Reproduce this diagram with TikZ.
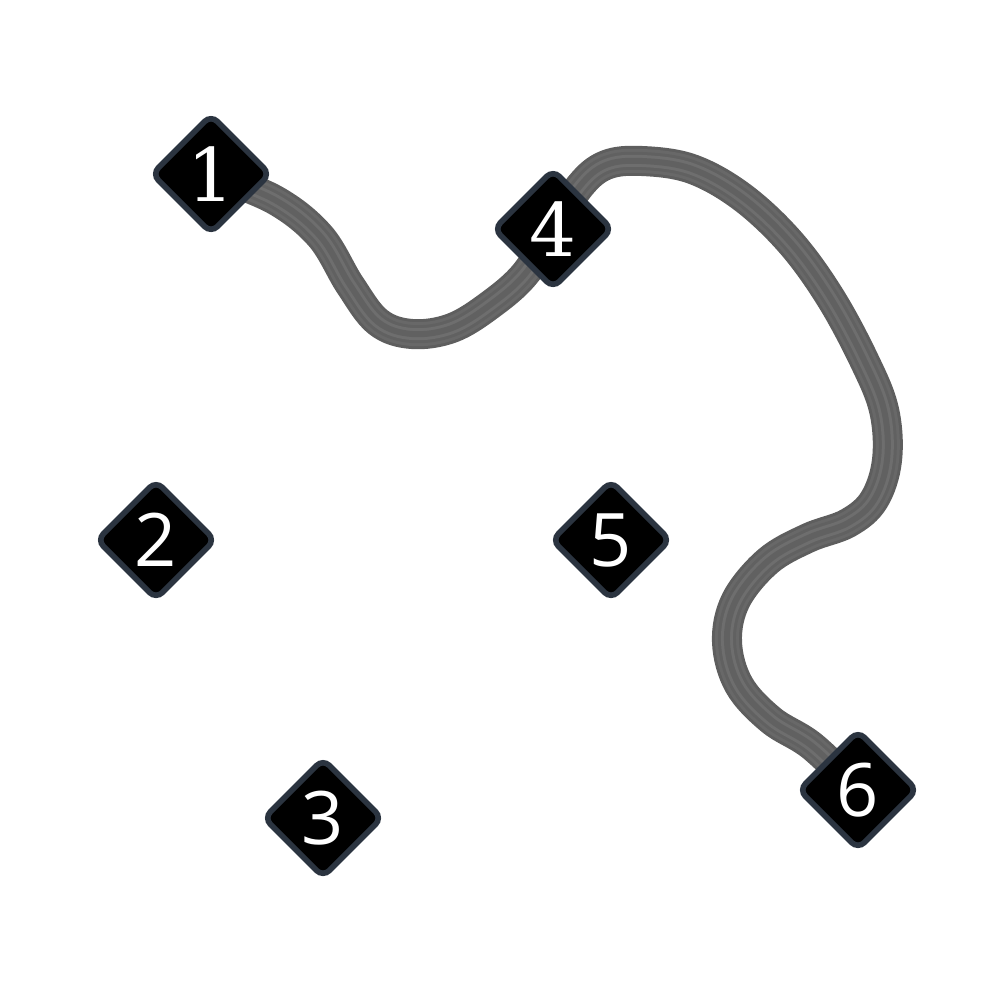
\documentclass[tikz,border=0pt]{standalone}
\usepackage{fontspec}
\usetikzlibrary{shapes.geometric}
\newfontfamily\slabfont{DejaVu Serif}
\newfontfamily\plainsans{Open Sans}
\definecolor{nodeborder}{HTML}{2B3440}
\definecolor{roadA}{HTML}{5E5E5E}
\definecolor{roadB}{HTML}{686868}
\definecolor{roadC}{HTML}{616161}
\definecolor{roadD}{HTML}{6E6E6E}
\tikzset{
  marker/.style={diamond, draw=nodeborder, fill=black, line width=1.6pt,
    rounded corners=2.5pt, minimum width=1.2cm, minimum height=1.2cm,
    inner sep=0pt, text=white, font=\fontsize{21}{21}\selectfont},
  road/.style={line cap=round, line join=round}
}
\begin{document}
\begin{tikzpicture}[x=0.01cm, y=-0.01cm]
\useasboundingbox (0,0) rectangle (1000,1000);
\coordinate (n1c) at (211,174);
\coordinate (n4c) at (553,229);
\coordinate (n6c) at (858,790);
% road
\foreach \w/\c in {0.30cm/roadA, 0.24cm/roadB, 0.18cm/roadC, 0.12cm/roadD, 0.06cm/roadC}{
  \draw[road, line width=\w, color=\c] plot[smooth, tension=0.6] coordinates {
    (n1c) (275,200) (320,236) (350,285) (378,322) (412,334) (452,328) (490,305) (525,274) (n4c)
    (580,186) (606,165) (642,161) (692,169) (742,197) (790,242) (830,297) (864,360) (884,410)
    (887,460) (874,500) (848,523) (808,538) (768,561) (736,600) (727,642) (739,685) (771,720) (812,746) (n6c)};
}
% nodes
\node[marker] (n1) at (n1c) {\slabfont 1};
\node[marker] (n2) at (156,540) {\plainsans 2};
\node[marker] (n3) at (323,818) {\plainsans 3};
\node[marker] (n4) at (n4c) {\slabfont 4};
\node[marker] (n5) at (611,540) {\plainsans 5};
\node[marker] (n6) at (n6c) {\plainsans 6};
\end{tikzpicture}
\end{document}
